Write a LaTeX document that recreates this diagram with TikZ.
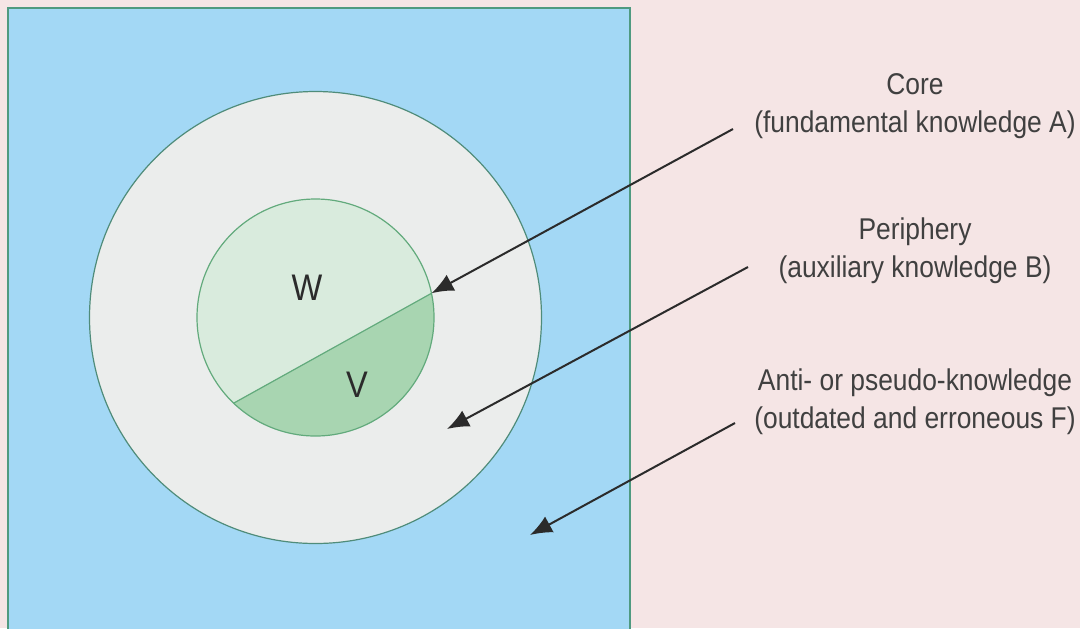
\documentclass[tikz,border=0pt]{standalone}
\usepackage{fontspec}
\setmainfont[FakeStretch=0.88]{Liberation Sans}
\usetikzlibrary{positioning}
\usetikzlibrary{arrows.meta}
\usetikzlibrary{calc}
\definecolor{pagebg}{HTML}{F5E5E5}
\definecolor{field}{HTML}{A3D8F5}
\definecolor{fieldedge}{HTML}{4F9A80}
\definecolor{shell}{HTML}{EBEDEC}
\definecolor{shelledge}{HTML}{4F8C7A}
\definecolor{kernel}{HTML}{D9EBDD}
\definecolor{kerneledge}{HTML}{62AA7C}
\definecolor{kerneldark}{HTML}{A8D5B1}
\definecolor{ink}{HTML}{2B2B2B}
\tikzset{
  % Explanatory text on the right
  note/.style={
    align=center, text=ink!90, inner sep=0pt,
    font=\fontsize{15}{19}\selectfont},
  % Letters inside the core
  part/.style={text=ink, inner sep=0pt, font=\fontsize{18.5}{20}\selectfont},
  % Pointers from text into the picture
  pointer/.style={-{Latex[length=11pt, width=9pt]}, draw=ink, line width=1pt},
}

\begin{document}
\begin{tikzpicture}[x=0.5pt, y=-0.5pt]

\fill[pagebg] (0,0) rectangle (1080,628);
\useasboundingbox (0,0) rectangle (1080,628);
\clip (0,0) rectangle (1080,628);

% the whole field
\draw[fill=field, draw=fieldedge, line width=1pt] (8,8) rectangle (630,640);

% periphery and core
\coordinate (mid) at (315.5,317.5);
\draw[fill=shell, draw=shelledge, line width=0.6pt] (mid) circle[radius=226];
\fill[kernel] (mid) circle[radius=118.5];
\fill[kerneldark] (mid) ++(133.7:118.5) arc[start angle=133.7, end angle=-11.8, radius=118.5] -- cycle;
\draw[kerneledge, line width=0.6pt] (mid) ++(133.7:118.5) coordinate (cutA)
  -- ($(mid)+(-11.8:118.5)$) coordinate (cutB);
\draw[kerneledge, line width=0.6pt] (mid) circle[radius=118.5];

\node[part] (w) at (307,288) {W};
\node[part] (v) at (357,385) {V};

% texts
\node[note] (core) at (915,106) {Core\\(fundamental knowledge A)};
\node[note] (periph) at (915,251) {Periphery\\(auxiliary knowledge B)};
\node[note] (anti) at (915,402) {Anti- or pseudo-knowledge\\(outdated and erroneous F)};

\coordinate (coreTail) at (733,129);
\coordinate (periphTail) at (748,267);
\coordinate (periphTip) at (447,429);
\coordinate (antiTail) at (735,423);
\coordinate (antiTip) at (530,535);

\draw[pointer] (coreTail) -- (cutB);
\draw[pointer] (periphTail) -- (periphTip);
\draw[pointer] (antiTail) -- (antiTip);

\end{tikzpicture}
\end{document}
